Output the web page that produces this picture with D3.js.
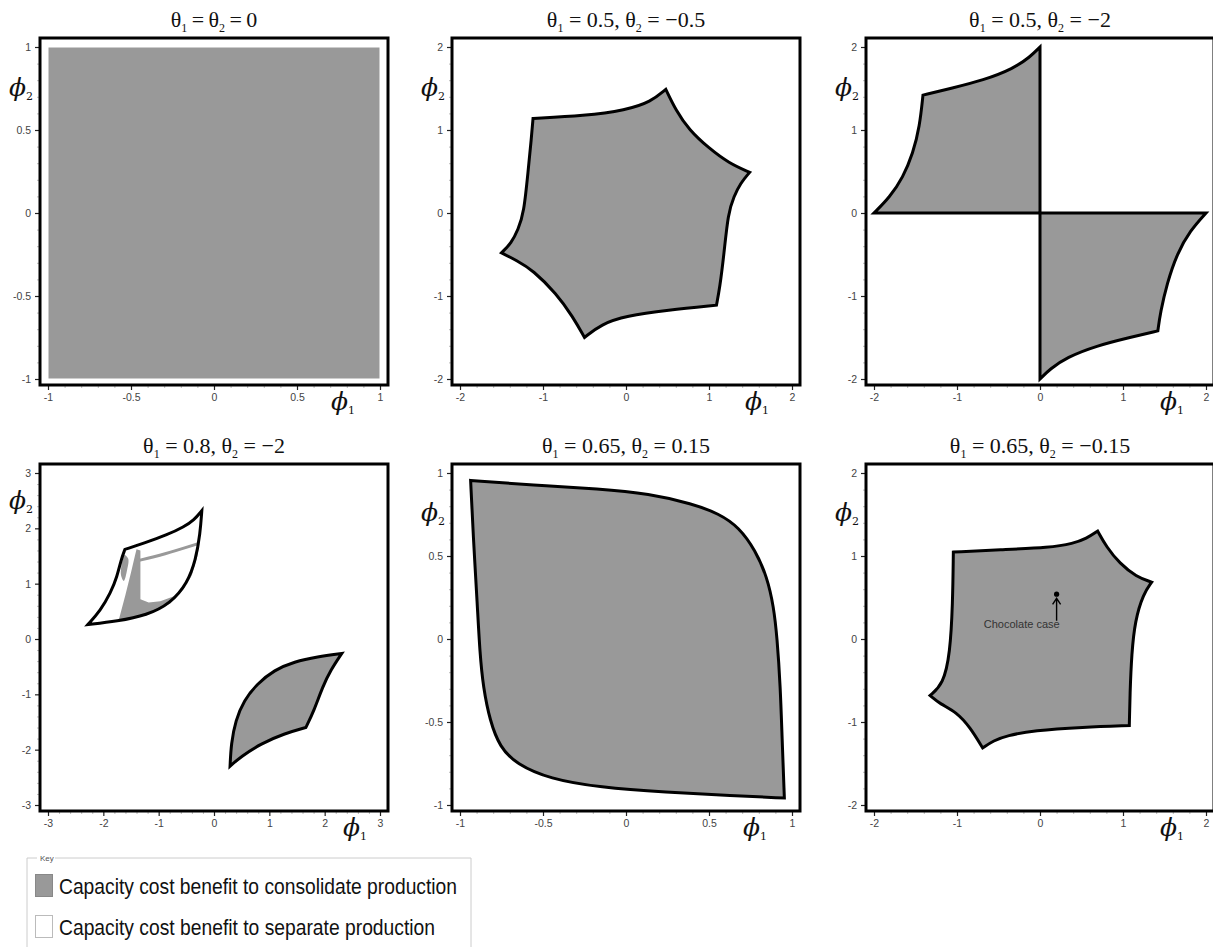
<!DOCTYPE html>
<html>
<head>
<meta charset="utf-8">
<script src="https://cdn.jsdelivr.net/npm/d3@7"></script>
<style>
  body { margin: 0; background: #fff; }
  svg { display: block; }
</style>
</head>
<body>
<svg id="chart" width="1213" height="947"></svg>
<script>
// panel settings
const theta1 = ["0", "0.5", "0.5", "0.8", "0.65", "0.65"];
const theta2 = ["0", "\u22120.5", "\u22122", "\u22122", "0.15", "\u22120.15"];
const extent = [1, 2, 2, 3, 1, 2];
const ticksHalf = [-1, -0.5, 0, 0.5, 1];
const ticksTwo = [-2, -1, 0, 1, 2];
const ticksThree = [-3, -2, -1, 0, 1, 2, 3];
const majorTicks = [ticksHalf, ticksTwo, ticksTwo, ticksThree, ticksHalf, ticksTwo];
const minorStep = [0.1, 0.2, 0.2, 0.2, 0.1, 0.2];

// region boundaries, one array per edge: [phi1, phi2]
const p1Square = [
  [[-1, 1], [1, 1]], [[1, 1], [1, -1]], [[1, -1], [-1, -1]], [[-1, -1], [-1, 1]]
];
const p2Star = [
  [[-1.12, 1.14], [-0.5, 1.17], [0, 1.24], [0.3, 1.34], [0.48, 1.49]],
  [[0.48, 1.49], [0.6, 1.24], [0.76, 1.0], [1.0, 0.78], [1.24, 0.6], [1.49, 0.49]],
  [[1.49, 0.49], [1.38, 0.36], [1.3, 0.2], [1.23, 0], [1.18, -0.5], [1.13, -0.9], [1.09, -1.11]],
  [[1.09, -1.11], [0.5, -1.17], [0, -1.24], [-0.3, -1.34], [-0.5, -1.5]],
  [[-0.5, -1.5], [-0.64, -1.25], [-0.84, -0.97], [-1.12, -0.69], [-1.32, -0.57], [-1.5, -0.48]],
  [[-1.5, -0.48], [-1.38, -0.36], [-1.3, -0.2], [-1.23, 0], [-1.18, 0.5], [-1.14, 0.9], [-1.12, 1.14]]
];
const p3Upper = [
  [[0, 0], [-2, 0]],
  [[-2, 0], [-1.81, 0.19], [-1.65, 0.43], [-1.53, 0.72], [-1.45, 1.04], [-1.41, 1.42]],
  [[-1.41, 1.42], [-1.08, 1.5], [-0.68, 1.6], [-0.32, 1.74], [-0.12, 1.88], [0, 2]],
  [[0, 2], [0, 0]]
];
const p3Lower = [
  [[0, 0], [2, 0]],
  [[2, 0], [1.81, -0.21], [1.65, -0.49], [1.53, -0.85], [1.45, -1.2], [1.42, -1.42]],
  [[1.42, -1.42], [1.08, -1.5], [0.68, -1.6], [0.32, -1.74], [0.12, -1.88], [0, -2]],
  [[0, -2], [0, 0]]
];
const p4Upper = [
  [[-2.28, 0.26], [-2.05, 0.52], [-1.87, 0.83], [-1.75, 1.13], [-1.68, 1.43], [-1.61, 1.62]],
  [[-1.61, 1.62], [-1.27, 1.73], [-0.85, 1.88], [-0.54, 2.03], [-0.36, 2.15], [-0.22, 2.32]],
  [[-0.22, 2.32], [-0.25, 1.91], [-0.33, 1.43], [-0.48, 1.01], [-0.79, 0.64], [-1.21, 0.43], [-1.75, 0.32], [-2.28, 0.26]]
];
const p4Lower = [
  [[2.31, -0.26], [1.87, -0.32], [1.45, -0.41], [1.09, -0.56], [0.78, -0.81], [0.54, -1.11], [0.39, -1.47], [0.31, -1.89], [0.29, -2.3]],
  [[0.29, -2.3], [0.48, -2.13], [0.85, -1.89], [1.27, -1.71], [1.66, -1.6]],
  [[1.66, -1.6], [1.81, -1.29], [1.96, -0.87], [2.11, -0.56], [2.31, -0.26]]
];
const p4Patch = [
  [-1.40, 1.62], [-1.33, 1.60], [-1.33, 0.72], [-1.18, 0.66], [-0.97, 0.68], [-0.70, 0.78],
  [-0.50, 0.98], [-0.38, 1.25], [-0.31, 1.6], [-0.26, 1.75], [-0.30, 1.5], [-0.40, 1.15],
  [-0.55, 0.9], [-0.79, 0.64], [-1.21, 0.43], [-1.72, 0.35], [-1.60, 0.8], [-1.50, 1.2], [-1.43, 1.5]
];
const p4Streak = [[-1.40, 1.41], [-0.9, 1.53], [-0.30, 1.72]];
const p4Blob = [[-1.62, 1.52], [-1.55, 1.45], [-1.57, 1.25], [-1.63, 1.05], [-1.68, 1.15], [-1.66, 1.4]];
const p5Region = [
  [[-0.936, 0.955], [-0.56, 0.926], [-0.16, 0.905], [0.14, 0.875], [0.4, 0.815], [0.56, 0.755], [0.68, 0.674],
   [0.78, 0.533], [0.85, 0.373], [0.89, 0.192], [0.91, 0.011], [0.93, -0.29], [0.94, -0.59], [0.954, -0.958]],
  [[0.954, -0.958], [0.64, -0.944], [0.24, -0.924], [-0.16, -0.894], [-0.46, -0.843], [-0.66, -0.753],
   [-0.76, -0.652], [-0.82, -0.492], [-0.86, -0.29], [-0.88, -0.09], [-0.896, 0.212], [-0.92, 0.614], [-0.936, 0.955]]
];
const p6Star = [
  [[-1.044, 1.047], [-0.48, 1.075], [0.12, 1.1], [0.40, 1.15], [0.56, 1.21], [0.695, 1.30]],
  [[0.695, 1.30], [0.80, 1.11], [0.96, 0.91], [1.16, 0.75], [1.345, 0.685]],
  [[1.345, 0.685], [1.245, 0.545], [1.145, 0.223], [1.104, -0.179], [1.084, -0.66], [1.076, -1.043]],
  [[1.076, -1.043], [0.52, -1.063], [-0.08, -1.103], [-0.40, -1.164], [-0.56, -1.224], [-0.691, -1.313]],
  [[-0.691, -1.313], [-0.843, -1.063], [-1.004, -0.882], [-1.205, -0.782], [-1.325, -0.681]],
  [[-1.325, -0.681], [-1.165, -0.54], [-1.084, -0.179], [-1.052, 0.424], [-1.044, 1.047]]
];
const chocolatePoint = [0.2, 0.54];
const chocolateArrow = [[0.2, 0.22], [0.2, 0.49]];
const chocolateLabel = [-0.22, 0.135];
const legendLabels = ["Capacity cost benefit to consolidate production", "Capacity cost benefit to separate production"];

const GRAY = "#999999";
const svg = d3.select("#chart");

const colX = [48, 460, 874];
const rowY = [47, 473];
const size = 332;
const phi2Dy = [49, 49, 49, 36, 48, 48];
const phi1Dx = [57, 55, 54, 45, 57, 54];

function regionPath(line, edges) {
  return edges.map((e, i) => {
    const s = line(e);
    return i ? "L" + s.slice(1) : s;
  }).join("") + "Z";
}

const panels = d3.range(6).map(i => {
  const x0 = colX[i % 3], y0 = rowY[Math.floor(i / 3)];
  const r = extent[i];
  const x = d3.scaleLinear().domain([-r, r]).range([x0, x0 + size]);
  const y = d3.scaleLinear().domain([-r, r]).range([y0 + size, y0]);
  const line = d3.line().x(d => x(d[0])).y(d => y(d[1])).curve(d3.curveBasis);
  const g = svg.append("g");
  return { i, x0, y0, x, y, line, g, fl: x0 - 8, fr: x0 + size + 8, ft: y0 - 9, fb: y0 + size + 6 };
});

function drawRegion(p, edges, fill) {
  p.g.append("path")
    .attr("d", regionPath(p.line, edges))
    .attr("fill", fill)
    .attr("stroke", "#000")
    .attr("stroke-width", 3)
    .attr("stroke-linejoin", "miter")
    .attr("stroke-miterlimit", 6);
}

// panel contents
{
  const p = panels[0];
  p.g.append("path")
    .attr("d", regionPath(d3.line().x(d => p.x(d[0])).y(d => p.y(d[1])), p1Square))
    .attr("fill", GRAY)
    .attr("stroke", "#fff")
    .attr("stroke-width", 1);
}
drawRegion(panels[1], p2Star, GRAY);
drawRegion(panels[2], p3Upper, GRAY);
drawRegion(panels[2], p3Lower, GRAY);
{
  const p = panels[3];
  p.g.append("path").attr("d", regionPath(p.line, p4Upper)).attr("fill", "#fff");
  const lin = d3.line().x(d => p.x(d[0])).y(d => p.y(d[1]));
  p.g.append("path").attr("d", lin(p4Patch) + "Z").attr("fill", GRAY);
  p.g.append("path").attr("d", lin.curve(d3.curveCatmullRomClosed)(p4Blob)).attr("fill", GRAY);
  p.g.append("path").attr("d", p.line(p4Streak)).attr("fill", "none")
    .attr("stroke", GRAY).attr("stroke-width", 3);
  p.g.append("path").attr("d", regionPath(p.line, p4Upper)).attr("fill", "none")
    .attr("stroke", "#000").attr("stroke-width", 3).attr("stroke-miterlimit", 6);
  drawRegion(p, p4Lower, GRAY);
}
drawRegion(panels[4], p5Region, GRAY);
{
  const p = panels[5];
  drawRegion(p, p6Star, GRAY);
  p.g.append("circle")
    .attr("cx", p.x(chocolatePoint[0])).attr("cy", p.y(chocolatePoint[1]))
    .attr("r", 2.6).attr("fill", "#000");
  const ax = p.x(chocolateArrow[0][0]);
  const ay0 = p.y(chocolateArrow[0][1]), ay1 = p.y(chocolateArrow[1][1]);
  p.g.append("path")
    .attr("d", `M${ax},${ay0}L${ax},${ay1}M${ax - 4},${ay1 + 6}L${ax},${ay1}L${ax + 4},${ay1 + 6}`)
    .attr("fill", "none").attr("stroke", "#000").attr("stroke-width", 1.4);
  p.g.append("text")
    .attr("x", p.x(chocolateLabel[0])).attr("y", p.y(chocolateLabel[1]))
    .attr("text-anchor", "middle")
    .attr("font-family", "'Liberation Sans', Arial, sans-serif")
    .attr("font-size", 10.5)
    .attr("textLength", 76)
    .attr("lengthAdjust", "spacingAndGlyphs")
    .attr("fill", "#333")
    .text("Chocolate case");
}

// frames, axes, titles
panels.forEach(p => {
  const i = p.i;
  const r = extent[i];
  const major = majorTicks[i];
  const minor = d3.range(-r, r + 1e-9, minorStep[i])
    .map(v => Math.round(v * 100) / 100)
    .filter(v => !major.some(m => Math.abs(m - v) < 1e-6));

  const gyMinor = p.g.append("g").attr("transform", `translate(${p.fl},0)`)
    .call(d3.axisLeft(p.y).tickValues(minor).tickSize(3).tickFormat(""));
  const gxMinor = p.g.append("g").attr("transform", `translate(0,${p.fb})`)
    .call(d3.axisBottom(p.x).tickValues(minor).tickSize(3).tickFormat(""));
  [gyMinor, gxMinor].forEach(a => {
    a.select(".domain").remove();
    a.selectAll("line").attr("stroke", "#bbb");
  });

  const gy = p.g.append("g").attr("transform", `translate(${p.fl},0)`)
    .call(d3.axisLeft(p.y).tickValues(major).tickSize(5).tickPadding(4).tickFormat(d => String(d)));
  const gx = p.g.append("g").attr("transform", `translate(0,${p.fb})`)
    .call(d3.axisBottom(p.x).tickValues(major).tickSize(5).tickPadding(4).tickFormat(d => String(d)));
  [gy, gx].forEach(a => {
    a.select(".domain").remove();
    a.selectAll("line").attr("stroke", "#222").attr("stroke-width", 1.2);
    a.selectAll("text")
      .attr("font-family", "'Liberation Sans', Arial, sans-serif")
      .attr("font-size", 10.5)
      .attr("fill", "#444");
  });

  p.g.append("rect")
    .attr("x", p.fl).attr("y", p.ft)
    .attr("width", p.fr - p.fl).attr("height", p.fb - p.ft)
    .attr("fill", "none").attr("stroke", "#000").attr("stroke-width", 3);

  // title
  const t = p.g.append("text")
    .attr("x", p.x0 + size / 2).attr("y", p.y0 - 20)
    .attr("text-anchor", "middle")
    .attr("font-family", "'Liberation Serif', 'Times New Roman', serif")
    .attr("font-size", 22)
    .attr("fill", "#111");
  const parts = i === 0
    ? [["\u03b8"], ["1", 1], ["\u2009=\u2009\u03b8"], ["2", 1], ["\u2009=\u20090"]]
    : [["\u03b8"], ["1", 1], [" = " + theta1[i] + ",  \u03b8"], ["2", 1], [" = " + theta2[i]]];
  parts.forEach(([s, sub]) => {
    t.append("tspan")
      .attr("font-size", sub ? 12 : 22)
      .attr("dy", sub ? 5 : (s === "\u03b8" ? 0 : -5))
      .text(s);
  });

  // axis labels
  const phi = (x, yb) => p.g.append("text")
    .attr("x", x).attr("y", yb)
    .attr("font-family", "'DejaVu Serif', 'Liberation Serif', serif")
    .attr("font-style", "italic")
    .attr("font-size", 25)
    .attr("fill", "#111");
  const a2 = phi(p.fl - 31, p.y0 + phi2Dy[i]);
  a2.append("tspan").text("\u03d5");
  a2.append("tspan").attr("font-size", 11).attr("font-style", "normal").attr("dy", 4).text("2");
  const a1 = phi(p.fr - phi1Dx[i], p.y0 + size + 31);
  a1.append("tspan").text("\u03d5");
  a1.append("tspan").attr("font-size", 11).attr("font-style", "normal").attr("dy", 4).text("1");
});

// legend
{
  const lg = svg.append("g");
  const bx0 = 27, bx1 = 471, by = 858;
  lg.append("path")
    .attr("d", `M${bx0},947L${bx0},${by}L${bx0 + 10},${by}M${bx0 + 28},${by}L${bx1},${by}L${bx1},947`)
    .attr("fill", "none").attr("stroke", "#ccc").attr("stroke-width", 1);
  lg.append("text").attr("x", bx0 + 13).attr("y", by + 3)
    .attr("font-family", "'Liberation Sans', Arial, sans-serif")
    .attr("font-size", 8).attr("fill", "#555").text("Key");
  const swFill = [GRAY, "#fff"];
  const swStroke = ["#888", "#bbb"];
  const rowsY = [874, 915];
  const textW = [398, 376];
  legendLabels.forEach((lab, k) => {
    lg.append("rect").attr("x", 35.5).attr("y", rowsY[k] + 0.5).attr("width", 17).attr("height", 22)
      .attr("fill", swFill[k]).attr("stroke", swStroke[k]).attr("stroke-width", 1);
    lg.append("text").attr("x", 59).attr("y", rowsY[k] + 20)
      .attr("font-family", "'Liberation Sans', Arial, sans-serif")
      .attr("font-size", 22)
      .attr("textLength", textW[k])
      .attr("lengthAdjust", "spacingAndGlyphs")
      .attr("fill", "#111")
      .text(lab);
  });
}
</script>
</body>
</html>
